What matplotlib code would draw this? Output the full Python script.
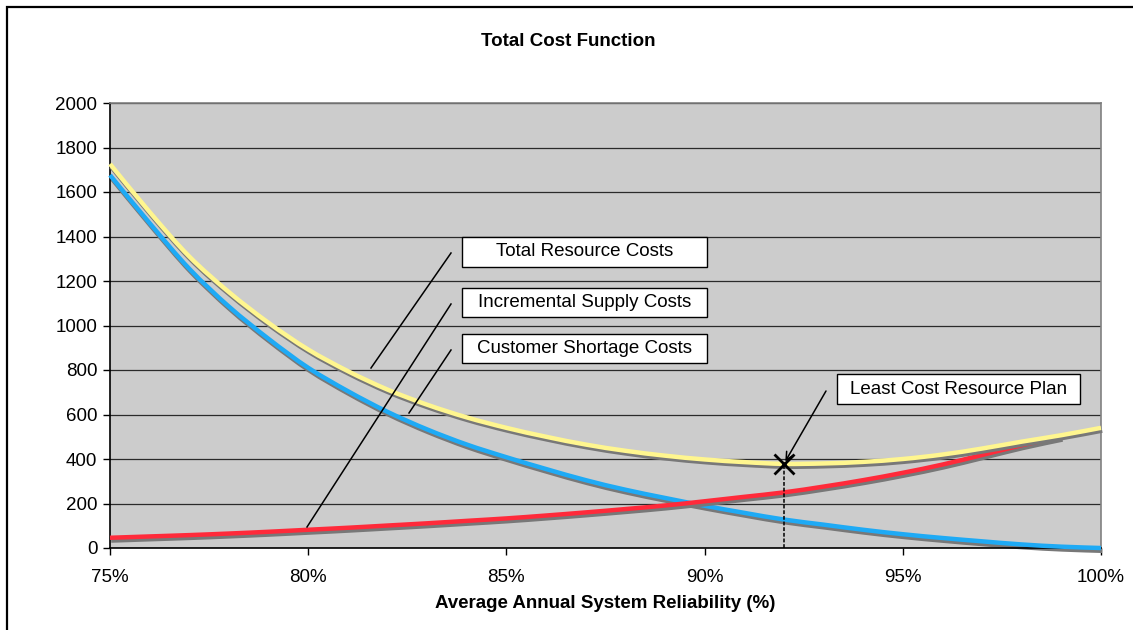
import matplotlib
matplotlib.use("Agg")
import matplotlib.pyplot as plt
from matplotlib.patches import Rectangle, PathPatch
from matplotlib.path import Path
from matplotlib.transforms import ScaledTranslation

# ---- data -------------------------------------------------------------
reliability = list(range(75, 101))  # percent

customer_shortage = [1676, 1460, 1255, 1085, 940, 810, 705, 612, 533, 465,
                     408, 355, 305, 262, 225, 190, 158, 128, 105, 82,
                     62, 45, 30, 16, 6, 0]
incremental_supply = [46, 52, 58, 65, 73, 82, 91, 101, 111, 122,
                      133, 146, 160, 175, 191, 210, 230, 250, 276, 305,
                      338, 375, 418, 462, 500]
total_resource = [1726, 1510, 1310, 1150, 1012, 892, 795, 712, 644, 587,
                  540, 500, 465, 437, 415, 398, 386, 378, 380, 387,
                  400, 420, 447, 478, 507, 540]

least_cost_x = 92
least_cost_y = 378

x_ticks = [75, 80, 85, 90, 95, 100]
x_tick_labels = ["75%", "80%", "85%", "90%", "95%", "100%"]
y_ticks = list(range(0, 2001, 200))

title = "Total Cost Function"
x_label = "Average Annual System Reliability (%)"

# ---- figure -----------------------------------------------------------
W, H = 1133, 630
fig = plt.figure(figsize=(W / 100, H / 100), dpi=100)
plt.rcParams["font.family"] = ["Liberation Sans", "DejaVu Sans"]
FS = 13.5


def fx(px):
    return px / W


def fy(py):
    return 1 - py / H


# outer chart border
fig.patches.append(Rectangle((fx(7), fy(640)), fx(1140) - fx(7), fy(7) - fy(640),
                             transform=fig.transFigure, fill=False,
                             edgecolor="black", linewidth=1.6, zorder=0))

ax = fig.add_axes([fx(110), fy(548), fx(1101) - fx(110), fy(103) - fy(548)])
ax.set_facecolor("#CCCCCC")
ax.set_xlim(75, 100)
ax.set_ylim(0, 2000)

ax.set_yticks(y_ticks)
ax.set_xticks(x_ticks)
ax.set_xticklabels(x_tick_labels)
ax.tick_params(axis="both", labelsize=FS, length=5, width=1, color="black",
               direction="out", pad=4)
ax.tick_params(axis="x", pad=10)
ax.yaxis.grid(True, color="#2a2a2a", linewidth=0.9)
ax.set_axisbelow(True)
for side in ("left", "bottom"):
    ax.spines[side].set_color("black")
    ax.spines[side].set_linewidth(1.2)
for side in ("top", "right"):
    ax.spines[side].set_color("#808080")
    ax.spines[side].set_linewidth(1.2)


def smooth_path(xs, ys):
    """Bezier path through the points (Catmull-Rom style smoothing)."""
    pts = list(zip(xs, ys))
    verts = [pts[0]]
    codes = [Path.MOVETO]
    n = len(pts)
    for i in range(n - 1):
        p0 = pts[i - 1] if i > 0 else pts[i]
        p1 = pts[i]
        p2 = pts[i + 1]
        p3 = pts[i + 2] if i + 2 < n else pts[i + 1]
        c1 = (p1[0] + (p2[0] - p0[0]) / 6, p1[1] + (p2[1] - p0[1]) / 6)
        c2 = (p2[0] - (p3[0] - p1[0]) / 6, p2[1] - (p3[1] - p1[1]) / 6)
        verts += [c1, c2, p2]
        codes += [Path.CURVE4] * 3
    return Path(verts, codes)


LW = 3.2
shadow_shift = ScaledTranslation(1.2 / 100, -2.8 / 100, fig.dpi_scale_trans)


def draw_series(xs, ys, color, z):
    path = smooth_path(xs, ys)
    ax.add_patch(PathPatch(path, fill=False, edgecolor="#787878", linewidth=LW,
                           capstyle="butt", transform=ax.transData + shadow_shift,
                           zorder=z - 0.5, clip_on=False))
    ax.add_patch(PathPatch(path, fill=False, edgecolor=color, linewidth=LW,
                           capstyle="butt", zorder=z, clip_on=False))


draw_series(reliability, customer_shortage, "#1EAAF5", 3)
draw_series(reliability[:len(incremental_supply)], incremental_supply, "#FF2A3A", 4)
draw_series(reliability, total_resource, "#FFF68F", 5)

# least-cost point with drop line
ax.plot([least_cost_x, least_cost_x], [0, least_cost_y], color="black",
        linewidth=1.1, linestyle=(0, (2.5, 1.2)), zorder=6)
ax.plot([least_cost_x], [least_cost_y], marker="x", markersize=14,
        markeredgewidth=2, color="black", zorder=7)

fig.text(fx(568), fy(42), title, ha="center", va="center", fontsize=FS,
         fontweight="bold")
fig.text(fx(605), fy(604), x_label, ha="center", va="center", fontsize=FS,
         fontweight="bold")


# ---- callout boxes ----------------------------------------------------
def callout(text, x0, y0, x1, y1):
    fig.patches.append(Rectangle((fx(x0), fy(y1)), fx(x1) - fx(x0), fy(y0) - fy(y1),
                                 transform=fig.transFigure, facecolor="white",
                                 edgecolor="black", linewidth=1.0, zorder=8))
    fig.text(fx((x0 + x1) / 2), fy((y0 + y1) / 2), text, ha="center",
             va="center", fontsize=FS, zorder=9)


def leader(xa, ya, xb, yb):
    fig.add_artist(plt.Line2D([fx(xa), fx(xb)], [fy(ya), fy(yb)],
                              transform=fig.transFigure, color="black",
                              linewidth=1.1, zorder=8))


callout("Total Resource Costs", 462, 237, 707, 267)
callout("Incremental Supply Costs", 462, 288, 707, 317)
callout("Customer Shortage Costs", 462, 334, 707, 363)
callout("Least Cost Resource Plan", 837, 374, 1080, 404)

leader(451, 253, 371, 368)
leader(451, 304, 307, 527)
leader(451, 350, 409, 413)

ax.annotate("", xy=(least_cost_x, least_cost_y),
            xytext=(fx(826), fy(391)), textcoords="figure fraction",
            arrowprops=dict(arrowstyle="->", color="black", lw=1.1,
                            shrinkA=0, shrinkB=2, mutation_scale=14),
            zorder=9)

fig.savefig("out.png", dpi=100)
